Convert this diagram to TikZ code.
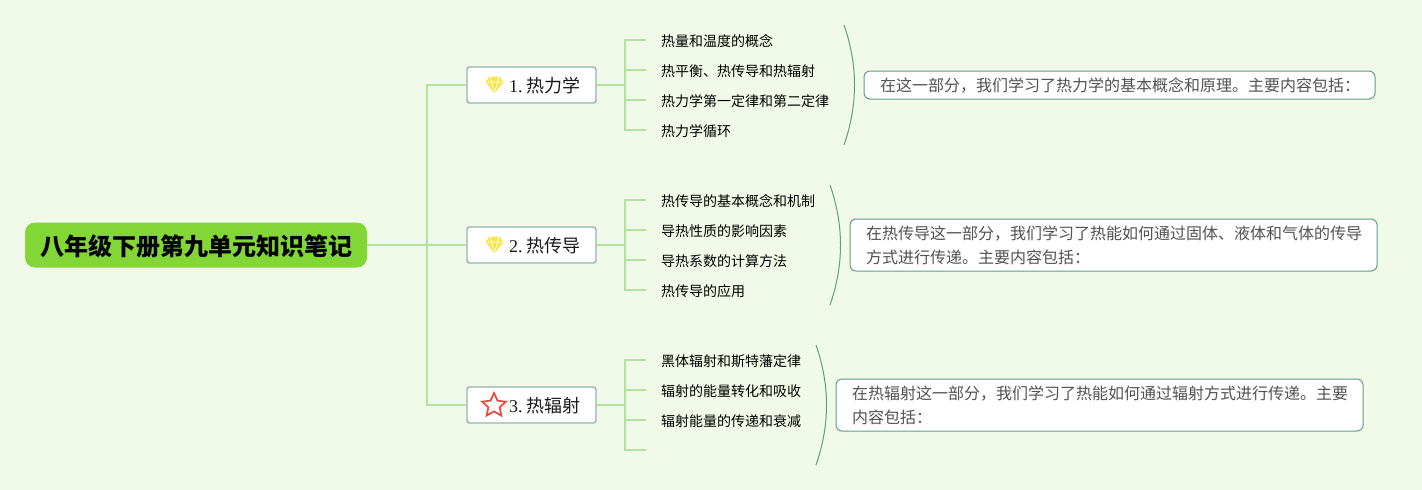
\documentclass[tikz,border=0pt]{standalone}
\usepackage{fontspec}
\setmainfont{Liberation Serif}
\newfontfamily\cjk{Noto Sans CJK SC}
\usetikzlibrary{shapes.geometric}
\definecolor{bgc}{HTML}{F1FAE8}
\definecolor{linec}{HTML}{B2E29C}
\definecolor{rootc}{HTML}{82D635}
\definecolor{boxc}{HTML}{8FB5B0}
\definecolor{bracec}{HTML}{5F9E86}
\definecolor{gemc}{HTML}{F5E84E}
\definecolor{starc}{HTML}{E8493C}
\tikzset{
 branch/.style={draw=linec,line width=1.6pt},
 rootbox/.style={fill=rootc,rounded corners=10pt,minimum width=342pt,minimum height=45pt,inner sep=0pt,text=black},
 rootlabel/.style={inner sep=0pt,font=\cjk\bfseries\fontsize{24}{24}\selectfont,text=black},
 topicbox/.style={draw=boxc,line width=1.4pt,fill=white,rounded corners=2.5pt,minimum width=129pt,minimum height=36pt,inner sep=0pt},
 topiclabel/.style={anchor=west,inner sep=0pt,font=\fontsize{18}{18}\selectfont,text=black!90},
 leaflabel/.style={anchor=west,inner sep=0pt,font=\cjk\fontsize{14}{14}\selectfont,text=black},
 sumbox/.style={draw=bracec,line width=1pt,fill=white,rounded corners=6pt,inner sep=0pt},
 sumlabel/.style={anchor=north west,inner sep=0pt,font=\cjk\fontsize{16}{24}\selectfont,text=black!68,align=left},
 bracecurve/.style={draw=bracec,line width=1pt},
}
\begin{document}
\begin{tikzpicture}[x=1pt,y=-1pt]
\useasboundingbox (0,0) rectangle (1422,490);
\fill[bgc] (0,0) rectangle (1422,490);
\node[rootbox] (root) at (196,245) {};
\node[rootlabel] (rootl) at (196.5,246.5) {八年级下册第九单元知识笔记};
\node[topicbox] (t1) at (531.5,85) {};
\node[topicbox] (t2) at (531.5,245) {};
\node[topicbox] (t3) at (531.5,405) {};
\coordinate (j01) at (427,85);
\coordinate (j03) at (427,405);
\draw[branch] (root.east) -- (t2.west);
\draw[branch] (t1.west) -- (j01) -- (j03) -- (t3.west);
\foreach \t/\y in {1/85,2/245,3/405}{
 \coordinate (b\t) at (625,\y);
 \draw[branch] (t\t.east) -- (b\t);
 \foreach \i/\d in {1/-45,2/-15,3/15,4/45}{
  \coordinate (k\t\i) at (625,\y+\d);
  \coordinate (e\t\i) at (646,\y+\d);
 }
 \draw[branch] (e\t1) -- (k\t1) -- (k\t4) -- (e\t4);
 \draw[branch] (k\t2) -- (e\t2);
 \draw[branch] (k\t3) -- (e\t3);
}
\node[topiclabel] (tl1) at (509,86) {1.\hspace{3.5pt}{\cjk 热力学}};
\node[topiclabel] (tl2) at (509,246) {2.\hspace{3.5pt}{\cjk 热传导}};
\node[topiclabel] (tl3) at (509,406) {3.\hspace{3.5pt}{\cjk 热辐射}};
% gems
\foreach \cx/\cy in {494.5/85,494.5/245}{
 \begin{scope}[shift={(\cx,\cy)}]
 \fill[gemc] (-5,-8.5) -- (5,-8.5) -- (9,-3) -- (0,8.5) -- (-9,-3) -- cycle;
 \draw[white,line width=.6pt] (-8,-3) -- (8,-3) (-4,-8) -- (-3.5,-3) -- (0,7) -- (3.5,-3) -- (4,-8);
 \end{scope}
}
\node[star,star points=5,star point ratio=2.1,draw=starc,line width=1.7pt,fill=none,minimum size=25pt,inner sep=0pt] (st) at (494,405.5) {};
% leaves
\node[leaflabel] (a1) at (661,41) {热量和温度的概念};
\node[leaflabel] (a2) at (661,71) {热平衡、热传导和热辐射};
\node[leaflabel] (a3) at (661,101) {热力学第一定律和第二定律};
\node[leaflabel] (a4) at (661,131) {热力学循环};
\node[leaflabel] (c1) at (661,201) {热传导的基本概念和机制};
\node[leaflabel] (c2) at (661,231) {导热性质的影响因素};
\node[leaflabel] (c3) at (661,261) {导热系数的计算方法};
\node[leaflabel] (c4) at (661,291) {热传导的应用};
\node[leaflabel] (d1) at (661,361) {黑体辐射和斯特藩定律};
\node[leaflabel] (d2) at (661,391) {辐射的能量转化和吸收};
\node[leaflabel] (d3) at (661,421) {辐射能量的传递和衰减};
% braces
\draw[bracecurve] (844,25) .. controls (858,65) and (858,105) .. (844,145);
\draw[bracecurve] (830,185) .. controls (844,225) and (844,265) .. (830,305);
\draw[bracecurve] (816,345) .. controls (830,385) and (830,425) .. (816,465);
% summaries
\draw[sumbox] (864,71) rectangle (1375,99);
\draw[sumbox] (850,219) rectangle (1377,271);
\draw[sumbox] (836,379) rectangle (1363,431);
\node[sumlabel] (s1) at (880,78) {在这一部分，我们学习了热力学的基本概念和原理。主要内容包括：};
\node[sumlabel] (s2) at (866,226) {在热传导这一部分，我们学习了热能如何通过固体、液体和气体的传导\\方式进行传递。主要内容包括：};
\node[sumlabel] (s3) at (852,386) {在热辐射这一部分，我们学习了热能如何通过辐射方式进行传递。主要\\内容包括：};
\end{tikzpicture}
\end{document}
